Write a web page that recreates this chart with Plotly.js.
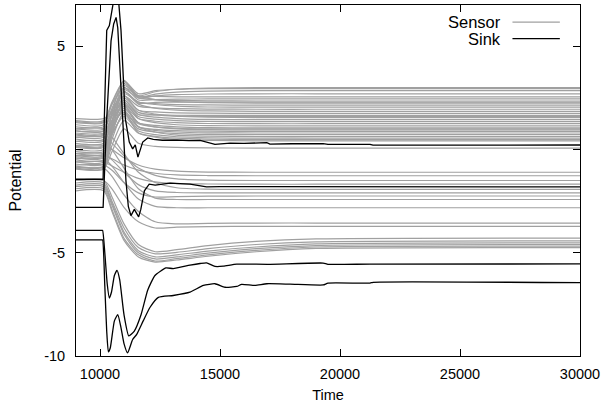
<!DOCTYPE html>
<html><head><meta charset="utf-8">
<script src="https://cdn.plot.ly/plotly-3.0.1.min.js"></script>
<style>html,body{margin:0;padding:0;background:#fff}#chart{width:606px;height:409px}</style>
</head><body><div id="chart"></div>
<script>
// shared time grid for sensor nodes
const sensorTime = [9000, 10150, 10500, 11000, 11600, 12300, 13200, 14500, 16500, 19000, 30000];

// sensors settling above zero
const sensor01 = [0.2,0.2,1.8,3.35,2.6,2.8,2.92,2.98,3.0,3.0,3.0];
const sensor02 = [1.2,1.2,2.2,3.3,2.55,2.68,2.78,2.83,2.85,2.85,2.85];
const sensor03 = [-0.4,-0.4,1.4,3.2,2.5,2.6,2.66,2.69,2.7,2.7,2.7];
const sensor04 = [0.9,0.9,2.0,3.1,2.6,2.57,2.55,2.55,2.55,2.55,2.55];
const sensor05 = [-0.8,-0.8,1.1,3.0,2.4,2.42,2.44,2.45,2.45,2.45,2.45];
const sensor06 = [0.5,0.5,1.7,2.9,2.5,2.42,2.38,2.36,2.35,2.35,2.35];
const sensor07 = [1.4,1.4,2.2,3.0,2.6,2.42,2.32,2.27,2.25,2.25,2.25];
const sensor08 = [-0.2,-0.2,1.3,2.8,2.3,2.22,2.18,2.16,2.15,2.15,2.15];
const sensor09 = [0.7,0.7,1.7,2.7,2.3,2.18,2.1,2.06,2.05,2.05,2.05];
const sensor10 = [-0.6,-0.6,1.0,2.6,2.1,2.02,1.98,1.96,1.95,1.95,1.95];
const sensor11 = [1.0,1.0,1.9,2.8,2.2,2.0,1.91,1.87,1.85,1.85,1.85];
const sensor12 = [0.3,0.3,1.4,2.5,1.9,1.82,1.78,1.76,1.75,1.75,1.75];
const sensor13 = [-0.9,-0.9,0.7,2.4,1.7,1.68,1.66,1.65,1.65,1.65,1.65];
const sensor14 = [1.3,1.3,1.9,2.6,1.9,1.72,1.62,1.57,1.55,1.55,1.55];
const sensor15 = [0.0,0.0,1.1,2.3,1.7,1.57,1.5,1.46,1.45,1.45,1.45];
const sensor16 = [0.6,0.6,1.4,2.2,1.6,1.47,1.4,1.36,1.35,1.35,1.35];
const sensor17 = [-0.5,-0.5,0.8,2.1,1.5,1.37,1.3,1.26,1.25,1.25,1.25];
const sensor18 = [1.1,1.1,1.7,2.3,1.5,1.3,1.2,1.16,1.15,1.15,1.15];
const sensor19 = [-0.1,-0.1,0.9,2.0,1.3,1.17,1.1,1.06,1.05,1.05,1.05];
const sensor20 = [0.8,0.8,1.4,2.1,1.3,1.1,1.0,0.96,0.95,0.95,0.95];
const sensor21 = [-0.7,-0.7,0.5,1.8,1.1,0.98,0.92,0.89,0.88,0.88,0.88];
const sensor22 = [0.4,0.4,1.1,1.9,1.1,0.93,0.85,0.81,0.8,0.8,0.8];
const sensor23 = [-0.3,-0.3,0.7,1.7,1.0,0.85,0.77,0.73,0.72,0.72,0.72];
const sensor24 = [1.5,1.5,1.8,2.2,1.1,0.85,0.7,0.65,0.63,0.63,0.63];
const sensor25 = [0.1,0.1,0.8,1.6,0.9,0.72,0.62,0.57,0.55,0.55,0.55];
const sensor26 = [-0.85,-0.85,0.2,1.4,0.8,0.64,0.55,0.5,0.48,0.48,0.48];
const sensor27 = [0.9,0.9,1.3,1.8,0.8,0.6,0.48,0.44,0.42,0.42,0.42];
const sensor28 = [-0.95,-0.95,-0.1,1.0,0.3,0.15,0.1,0.08,0.07,0.07,0.07];
const sensor29 = [1.35,1.35,2.3,3.3,2.7,2.85,2.92,2.95,2.95,2.95,2.95];
const sensor30 = [-0.35,-0.35,1.2,2.8,2.25,2.28,2.3,2.3,2.3,2.3,2.3];
const sensor31 = [0.75,0.75,1.6,2.4,1.8,1.68,1.62,1.6,1.6,1.6,1.6];
const sensor32 = [0.15,0.15,1.0,2.0,1.25,1.1,1.03,1.0,1.0,1.0,1.0];
// sensors settling between -1 and -4
const sensor33 = [0.2,0.2,0.0,-0.4,-0.75,-0.95,-1.05,-1.09,-1.1,-1.1,-1.1];
const sensor34 = [-0.3,-0.3,-0.45,-0.75,-1.0,-1.15,-1.23,-1.26,-1.27,-1.27,-1.27];
const sensor35 = [0.6,0.6,0.3,-0.3,-0.9,-1.25,-1.42,-1.48,-1.5,-1.5,-1.5];
const sensor36 = [-0.6,-0.6,-0.8,-1.1,-1.4,-1.57,-1.65,-1.67,-1.68,-1.68,-1.68];
const sensor37 = [1.0,1.0,0.6,-0.2,-1.1,-1.6,-1.85,-1.92,-1.93,-1.93,-1.93];
const sensor38 = [-0.2,-0.2,-0.5,-1.1,-1.7,-2.0,-2.08,-2.1,-2.1,-2.1,-2.1];
const sensor39 = [-0.75,-0.75,-1.0,-1.6,-2.1,-2.3,-2.28,-2.26,-2.25,-2.25,-2.25];
const sensor40 = [0.4,0.4,0.0,-0.9,-1.9,-2.35,-2.42,-2.42,-2.42,-2.42,-2.42];
const sensor41 = [-0.45,-0.45,-0.8,-1.6,-2.4,-2.75,-2.82,-2.82,-2.82,-2.82,-2.82];
const sensor42 = [-0.9,-0.9,-1.3,-2.2,-3.0,-3.5,-3.6,-3.58,-3.56,-3.56,-3.56];
const sensor43 = [-1.5,-1.5,-1.9,-2.8,-3.5,-3.8,-3.76,-3.73,-3.72,-3.72,-3.72];
// sensors settling near -4.5
const sensor44 = [-1.5,-1.5,-2.3,-3.6,-4.6,-4.95,-4.85,-4.65,-4.45,-4.33,-4.29];
const sensor45 = [-1.62,-1.62,-2.5,-3.8,-4.75,-5.05,-4.98,-4.8,-4.6,-4.47,-4.42];
const sensor46 = [-1.72,-1.72,-2.6,-4.0,-4.9,-5.2,-5.1,-4.92,-4.72,-4.57,-4.52];
const sensor47 = [-1.8,-1.8,-2.7,-4.1,-5.0,-5.3,-5.2,-5.02,-4.8,-4.65,-4.6];
const sensor48 = [-1.9,-1.9,-2.9,-4.3,-5.1,-5.4,-5.28,-5.1,-4.88,-4.72,-4.68];
const sensor49 = [-2.0,-2.0,-3.0,-4.4,-5.2,-5.45,-5.35,-5.17,-4.95,-4.79,-4.75];

const sensors = [sensor01,sensor02,sensor03,sensor04,sensor05,sensor06,sensor07,sensor08,sensor09,sensor10,
  sensor11,sensor12,sensor13,sensor14,sensor15,sensor16,sensor17,sensor18,sensor19,sensor20,
  sensor21,sensor22,sensor23,sensor24,sensor25,sensor26,sensor27,sensor28,sensor29,sensor30,
  sensor31,sensor32,sensor33,sensor34,sensor35,sensor36,sensor37,sensor38,sensor39,sensor40,
  sensor41,sensor42,sensor43,sensor44,sensor45,sensor46,sensor47,sensor48,sensor49];

// sinks
const sinkATime = [9000,10130,10180,10220,10280,10390,10500,10570,10625,10690,10760,10875,10945,11010,11055,11220,11360,11470,11580,11780,11990,12220,12600,13200,13700,14170,14500,14790,15420,16000,16950,17080,18000,19300,19500,21250,21375,25000,30000];
const sinkAValue = [-1.44,-1.44,1.5,3.47,5.77,6.0,6.75,7.4,7.6,7.5,7.4,5.77,4.1,2.5,1.5,0.36,0.03,0.23,-0.37,0.36,0.56,0.49,0.45,0.46,0.43,0.44,0.35,0.25,0.31,0.3,0.33,0.26,0.28,0.29,0.25,0.25,0.21,0.21,0.22];
const sinkBTime = [9000,10130,10280,10390,10460,10570,10670,10740,10800,10875,10945,11080,11180,11290,11430,11610,11700,11850,12050,12300,12920,13750,14440,15000,30000];
const sinkBValue = [-2.8,-2.8,1.5,4.1,5.26,6.08,6.4,5.9,4.45,3.3,1.5,-1.5,-2.75,-3.2,-2.9,-3.26,-2.9,-2.0,-1.68,-1.72,-1.63,-1.68,-1.81,-1.8,-1.81];
const sinkCTime = [9000,10080,10110,10200,10300,10390,10480,10600,10710,10820,11000,11200,11430,11710,11990,12290,12750,13050,13750,14170,14440,14790,15140,15700,17000,19300,19500,21250,30000];
const sinkCValue = [-3.92,-3.92,-3.92,-5.0,-6.5,-7.19,-6.9,-6.1,-5.85,-6.3,-8.0,-9.03,-8.79,-8.0,-6.8,-6.1,-5.73,-5.77,-5.6,-5.52,-5.49,-5.66,-5.65,-5.55,-5.56,-5.5,-5.56,-5.55,-5.54];
const sinkDTime = [9000,10080,10110,10200,10280,10350,10430,10600,10740,10870,11000,11150,11360,11530,11800,12080,12430,13050,13750,14310,14790,15210,15700,15900,16460,16950,17920,19300,19500,21250,21375,30000];
const sinkDValue = [-4.38,-4.38,-4.38,-6.6,-8.8,-9.8,-9.6,-8.3,-8.0,-8.6,-9.4,-9.85,-9.2,-8.95,-8.3,-7.65,-7.16,-7.07,-6.91,-6.58,-6.5,-6.67,-6.63,-6.53,-6.58,-6.5,-6.52,-6.56,-6.47,-6.47,-6.43,-6.45];

const xTickVals = [10000, 15000, 20000, 25000, 30000];
const xTickText = ["10000", "15000", "20000", "25000", "30000"];
const yTickVals = [-10, -5, 0, 5];
const yTickText = ["-10", "-5", "0", "5"];
const legendNames = ["Sensor", "Sink"];

const GRAY = "#a0a0a0";
const FONT = "Liberation Sans, Arial, Helvetica, sans-serif";

const traces = [];
sensors.forEach(s => traces.push({
  x: sensorTime, y: s, type: "scatter", mode: "lines",
  line: {color: GRAY, width: 1.2, shape: "spline", smoothing: 0.7},
  hoverinfo: "skip", showlegend: false
}));
[[sinkATime, sinkAValue, "linear"],[sinkBTime, sinkBValue, "linear"],[sinkCTime, sinkCValue, "spline"],[sinkDTime, sinkDValue, "spline"]].forEach(p => traces.push({
  x: p[0], y: p[1], type: "scatter", mode: "lines",
  line: {color: "#000", width: 1.3, shape: p[2], smoothing: 0.5},
  hoverinfo: "skip", showlegend: false
}));

const axisCommon = {
  showline: true, linecolor: "#000", linewidth: 1, mirror: "allticks",
  ticks: "inside", ticklen: 7, tickcolor: "#000", tickwidth: 1,
  showgrid: false, zeroline: false,
  tickfont: {family: FONT, size: 14.5, color: "#000"}
};

const layout = {
  width: 606, height: 409,
  margin: {l: 76, r: 26, t: 5, b: 53},
  paper_bgcolor: "#fff", plot_bgcolor: "#fff",
  showlegend: false,
  xaxis: Object.assign({}, axisCommon, {
    range: [9000, 30000], tickvals: xTickVals, ticktext: xTickText,
    ticklabelstandoff: 5,
    title: {text: "Time", font: {family: FONT, size: 14.5, color: "#000"}, standoff: 8}
  }),
  yaxis: Object.assign({}, axisCommon, {
    range: [-10, 7], tickvals: yTickVals, ticktext: yTickText,
    ticklabelstandoff: 7,
    title: {text: "Potential", font: {family: FONT, size: 16, color: "#000"}, standoff: 18}
  }),
  annotations: [
    {xref: "paper", yref: "paper", x: 0.847, y: 0.951, xanchor: "right", yanchor: "middle", text: legendNames[0], showarrow: false, font: {family: FONT, size: 16.5, color: "#000"}},
    {xref: "paper", yref: "paper", x: 0.847, y: 0.904, xanchor: "right", yanchor: "middle", text: legendNames[1], showarrow: false, font: {family: FONT, size: 16.5, color: "#000"}}
  ],
  shapes: [
    {type: "line", xref: "paper", yref: "paper", x0: 0.866, x1: 0.960, y0: 0.951, y1: 0.951, line: {color: GRAY, width: 1.3}},
    {type: "line", xref: "paper", yref: "paper", x0: 0.866, x1: 0.960, y0: 0.904, y1: 0.904, line: {color: "#000", width: 1.3}}
  ]
};

Plotly.newPlot("chart", traces, layout, {displayModeBar: false, staticPlot: true});
</script>
</body></html>
